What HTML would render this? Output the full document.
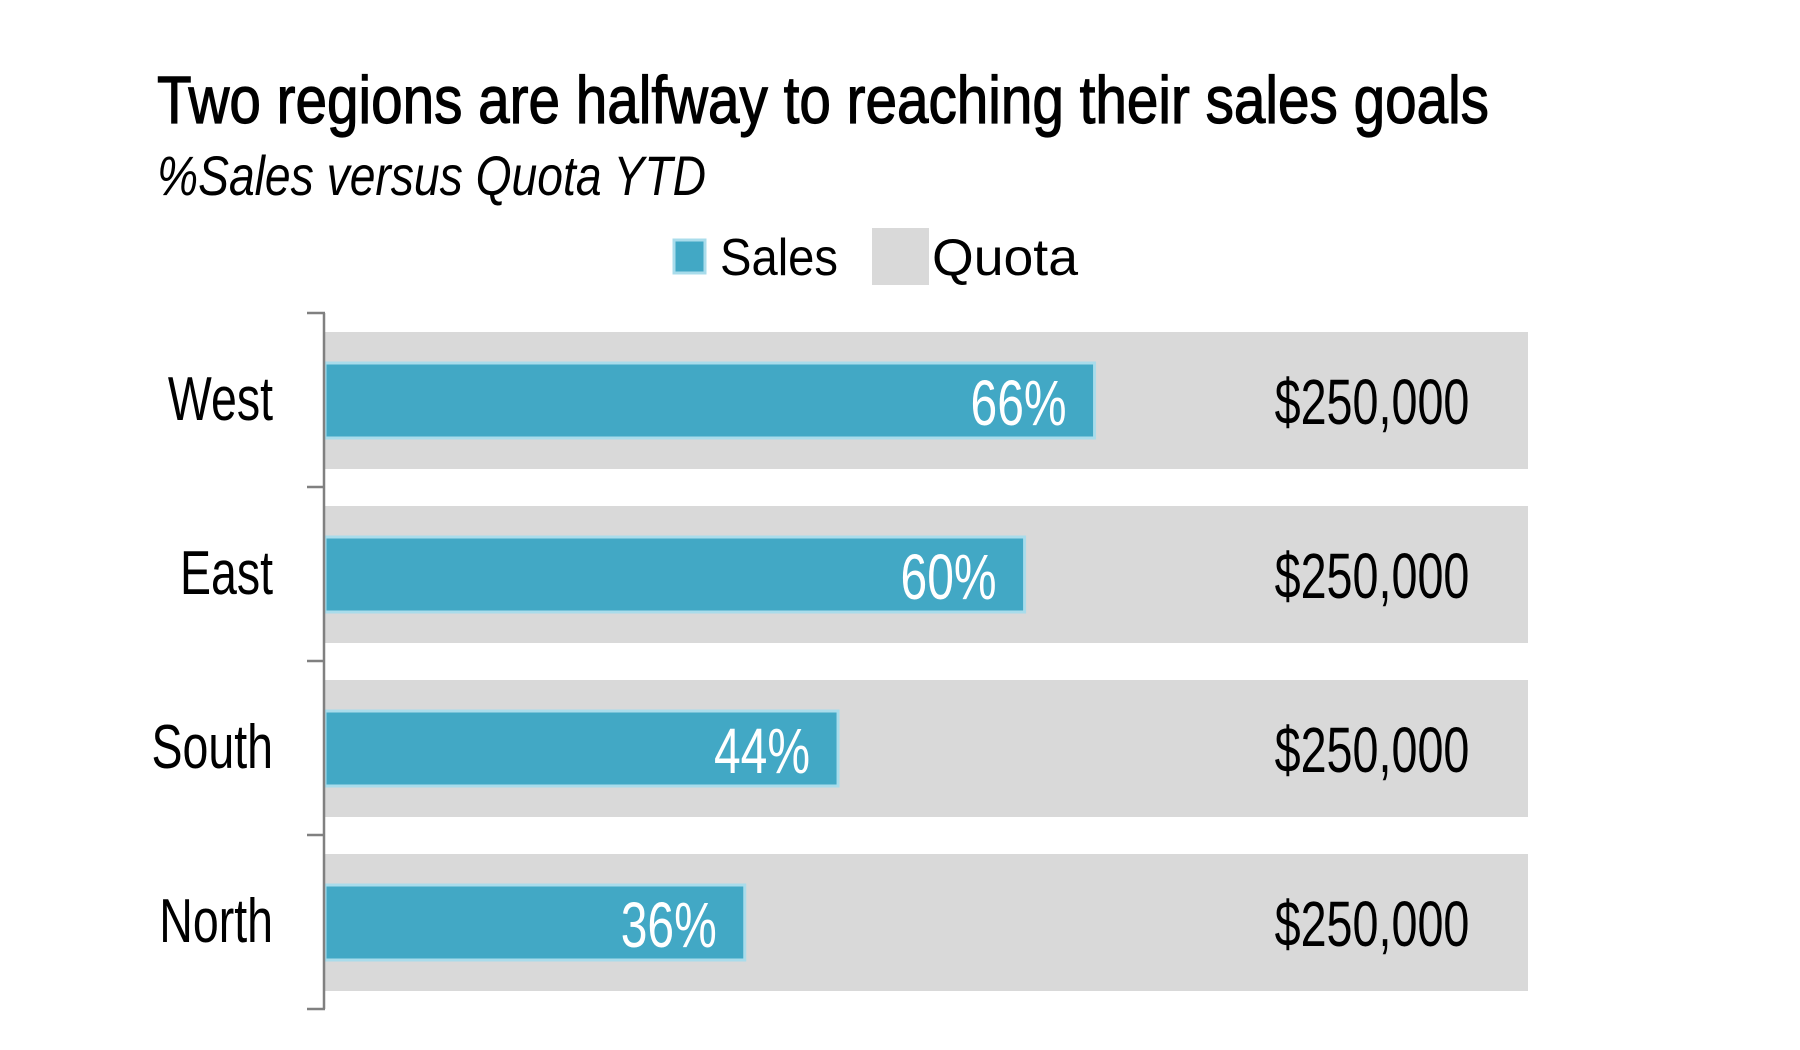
<!DOCTYPE html>
<html><head><meta charset="utf-8"><style>
html,body{margin:0;padding:0;background:#fff;}
svg{display:block;}
text{font-family:"Liberation Sans Narrow","Liberation Sans",sans-serif;}
</style></head><body>
<svg id="chart" width="1800" height="1050" viewBox="0 0 1800 1050" xmlns="http://www.w3.org/2000/svg">
<text x="157" y="123" font-size="67" fill="#000" stroke="#000" stroke-width="1.2" textLength="1332" lengthAdjust="spacingAndGlyphs">Two regions are halfway to reaching their sales goals</text>
<text x="157" y="195" font-size="56" font-style="italic" fill="#000" textLength="549" lengthAdjust="spacingAndGlyphs">%Sales versus Quota YTD</text>
<g>
<rect x="674" y="240" width="31" height="33" fill="#42A8C5" stroke="#A9DCEB" stroke-width="3"/>
<text x="720" y="275" font-size="52" fill="#000" style="font-family:'Liberation Sans',sans-serif" textLength="118" lengthAdjust="spacingAndGlyphs">Sales</text>
<rect x="872" y="228" width="57" height="57" fill="#D9D9D9"/>
<text x="932" y="275" font-size="52" fill="#000" style="font-family:'Liberation Sans',sans-serif" textLength="146" lengthAdjust="spacingAndGlyphs">Quota</text>
</g>
<g id="plot"></g>
</svg>
<script>
const categories = ["West","East","South","North"];
const salesPct = [66,60,44,36];
const quotaLabels = ["$250,000","$250,000","$250,000","$250,000"];
const pctLabels = ["66%","60%","44%","36%"];

const NS = "http://www.w3.org/2000/svg";
const plot = document.getElementById('plot');
const x0 = 325, pxPer100 = 1166, quotaRight = 1528;
const yTop = 313, rowH = 174;
const narrow = 0.75;
function xScale(v){ return x0 + v/100*pxPer100; }
function rowY(i){ return yTop + i*rowH; }
function mk(tag, attrs){ const e=document.createElementNS(NS,tag); for(const k in attrs) e.setAttribute(k,attrs[k]); plot.appendChild(e); return e; }

categories.forEach((c,i)=>{
  const y = rowY(i);
  const q = mk('rect',{x:x0,y:y+19,width:quotaRight-x0,height:137,fill:'#D9D9D9'});
  
  
  const b = mk('rect',{x:x0,y:y+50,width:xScale(salesPct[i])-x0,height:75,fill:'#42A8C5',stroke:'#A9DCEB','stroke-width':3});
  
  
  const pl = mk('text',{x:0,y:0,'font-size':64,fill:'#fff','text-anchor':'end',transform:`translate(${xScale(salesPct[i])-28},${y+112}) scale(${narrow},1)`});
  pl.textContent = pctLabels[i];
  
  
  const ql = mk('text',{x:0,y:0,'font-size':64,fill:'#000','text-anchor':'middle',transform:`translate(1372,${y+111}) scale(0.73,1)`});
  ql.textContent = quotaLabels[i];
  
  
  const cl = mk('text',{x:0,y:0,'font-size':62,fill:'#000','text-anchor':'end',transform:`translate(273,${y+107}) scale(${narrow},1)`});
  cl.textContent = c;
  
  
});
const axis = mk('line',{x1:x0-1,y1:yTop,x2:x0-1,y2:rowY(categories.length),stroke:'#808080','stroke-width':2.5});


for(let i=0;i<=categories.length;i++){
  const t = mk('line',{x1:307,y1:rowY(i),x2:x0,y2:rowY(i),stroke:'#808080','stroke-width':2.5});
  
  
}
</script>
</body></html>
